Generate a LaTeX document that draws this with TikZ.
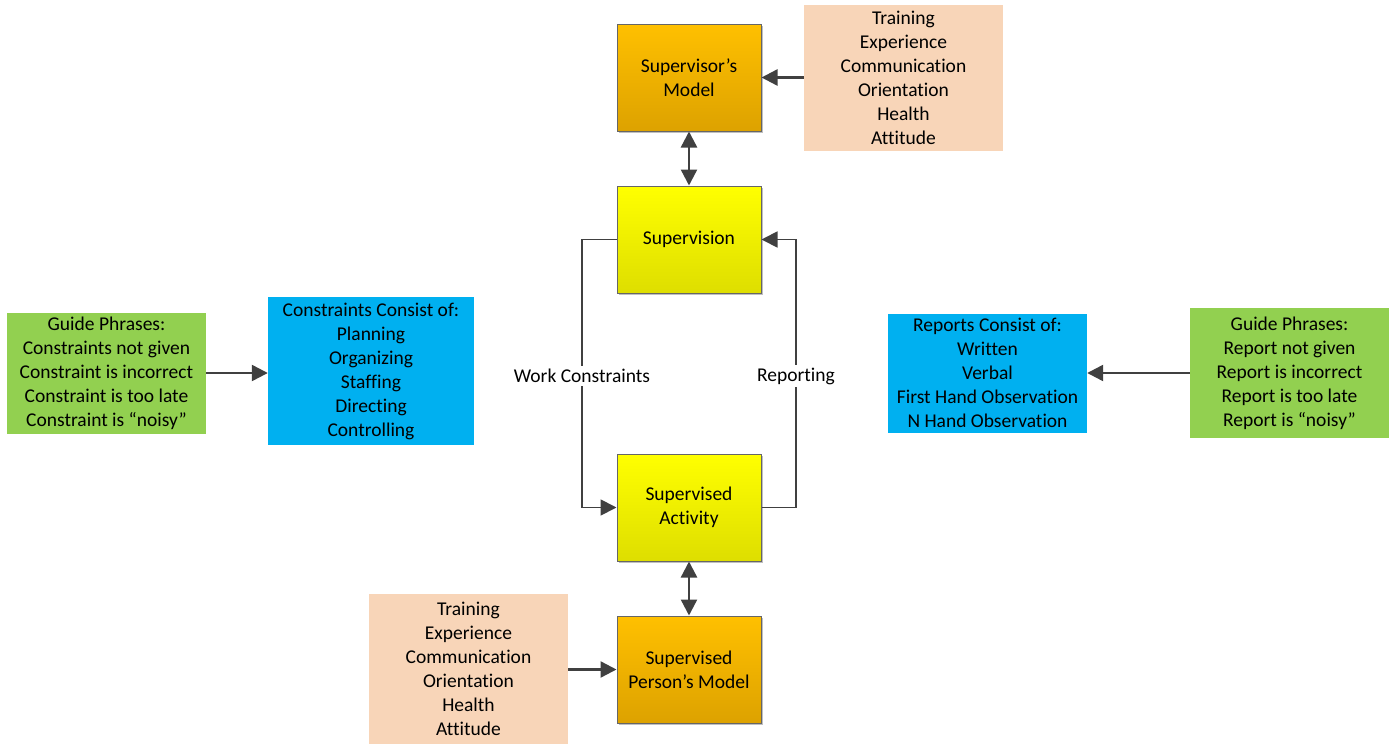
\documentclass[tikz,border=0pt]{standalone}
\usepackage{fontspec}
\setmainfont{Carlito}[Ligatures=CommonOff]
\usetikzlibrary{arrows.meta,shadows}
\definecolor{peach}{HTML}{F8D5B8}
\definecolor{leaf}{HTML}{92D050}
\definecolor{sky}{HTML}{00B0F0}
\definecolor{amberTop}{HTML}{FFC000}
\definecolor{amberBot}{HTML}{DDA200}
\definecolor{lemonTop}{HTML}{FFFF00}
\definecolor{lemonBot}{HTML}{DEDE00}
\definecolor{wire}{HTML}{404040}
\begin{document}
\begin{tikzpicture}[x=1pt,y=-1pt,
  every node/.style={font=\fontsize{19.5}{24}\selectfont, align=center, inner sep=0pt},
  panel/.style={minimum width=144pt, minimum height=107pt, draw=wire!80, line width=1pt,
    drop shadow={shadow xshift=2pt, shadow yshift=-2pt, opacity=0.25, fill=black}},
  amberbox/.style={panel, top color=amberTop, bottom color=amberBot},
  lemonbox/.style={panel, top color=lemonTop, bottom color=lemonBot},
  flatbox/.style={fill=#1, draw=none},
  tip/.style={Triangle[length=16pt,width=16pt]},
  link/.style={draw=wire, line width=2.4pt, -{Triangle[length=16pt,width=16pt]}},
  twoway/.style={draw=wire, line width=2.4pt, {Triangle[length=16pt,width=16pt]}-{Triangle[length=16pt,width=16pt]}},
  tag/.style={fill=white, inner sep=3pt}]
\useasboundingbox (0,0) rectangle (1390,744);

% central column
\node[amberbox] (smodel) at (689,77.5) {Supervisor’s\\Model};
\node[lemonbox] (sup) at (689,239.5) {Supervision};
\node[lemonbox] (act) at (689,507.5) {Supervised\\Activity};
\node[amberbox] (pmodel) at (689,669.5) {Supervised\\Person’s Model};

% attribute boxes
\node[flatbox=peach, minimum width=199pt, minimum height=146pt] (topattr) at (903.5,78)
  {Training\\Experience\\Communication\\Orientation\\Health\\Attitude};
\node[flatbox=peach, minimum width=199pt, minimum height=150pt] (botattr) at (468.5,669)
  {Training\\Experience\\Communication\\Orientation\\Health\\Attitude};

% left side
\node[flatbox=leaf, minimum width=199pt, minimum height=121pt] (lguide) at (106.5,373)
  {Guide Phrases:\\Constraints not given\\Constraint is incorrect\\Constraint is too late\\Constraint is “noisy”};
\node[flatbox=sky, minimum width=206pt, minimum height=148pt] (lcons) at (371,371)
  {Constraints Consist of:\\Planning\\Organizing\\Staffing\\Directing\\Controlling};

% right side
\node[flatbox=sky, minimum width=199pt, minimum height=119pt] (rcons) at (987.5,373)
  {Reports Consist of:\\Written\\Verbal\\First Hand Observation\\N Hand Observation};
\node[flatbox=leaf, minimum width=199pt, minimum height=130pt] (rguide) at (1289.5,373)
  {Guide Phrases:\\Report not given\\Report is incorrect\\Report is too late\\Report is “noisy”};

% connectors
\draw[link] (topattr.west |- smodel) -- (smodel.east);
\draw[twoway] (smodel.south) -- (sup.north);
\draw[twoway] (act.south) -- (pmodel.north);
\draw[link] (botattr.east |- pmodel) -- (pmodel.west);
\draw[link] (lguide.east) -- (lcons.west |- lguide.east);
\draw[link] (rguide.west) -- (rcons.east |- rguide.west);

\coordinate (wl) at (582,0);
\coordinate (wr) at (796,0);
\draw[link, line width=1.8pt] (sup.west) -- (wl |- sup.west) -- (wl |- act.west) -- (act.west);
\draw[link, line width=1.8pt] (act.east) -- (wr |- act.east) -- (wr |- sup.east) -- (sup.east);
\node[tag] (wlab) at (582,376) {Work Constraints};
\node[tag] (rlab) at (796,376) {Reporting};
\end{tikzpicture}
\end{document}
